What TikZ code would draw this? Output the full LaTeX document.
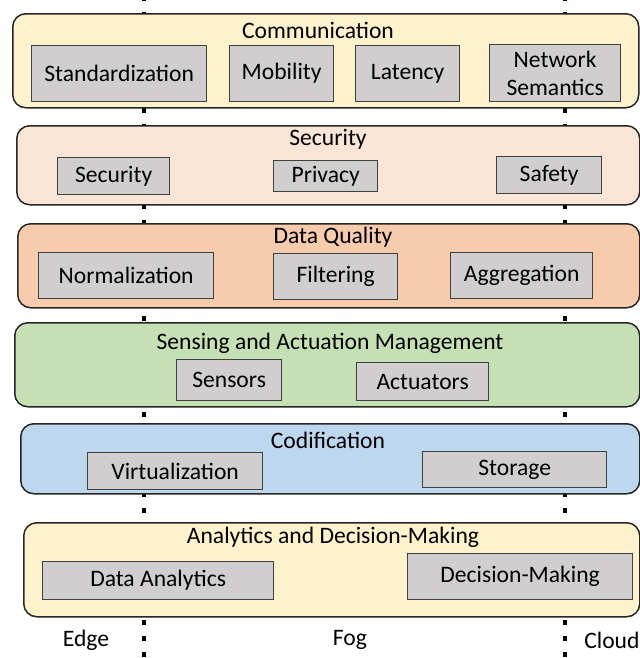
\documentclass[tikz,border=0pt]{standalone}
\usepackage{fontspec}
\setmainfont{Carlito}
\newdimen\px \px=0.75pt
\definecolor{commfill}{HTML}{FFF2CC}
\definecolor{secfill}{HTML}{FBE5D6}
\definecolor{dqfill}{HTML}{F8CBAD}
\definecolor{samfill}{HTML}{C5E0B4}
\definecolor{codefill}{HTML}{BDD7EE}
\definecolor{itemfill}{HTML}{D0CECE}
\tikzset{
	panel/.style={draw=black!85, line width=1.5\px, rounded corners=13\px, anchor=north west, inner sep=0pt},
	item/.style={draw=black!75, fill=itemfill, line width=1.3\px, anchor=north west, inner sep=0pt, align=center},
	tier/.style={draw=black, line width=3.6\px, dash pattern=on 3.6pt off 8.4pt, dash phase=3pt}
}
\begin{document}
\begin{tikzpicture}[x=0.75pt, y=-0.75pt, font=\fontsize{17.7}{21}\selectfont]
				\useasboundingbox (0,0) rectangle (640,658);
				% tier borders, behind the layers
				\coordinate (edgetop) at (144,0);
				\coordinate (edgebot) at (144,658);
				\coordinate (cloudtop) at (565,0);
				\coordinate (cloudbot) at (565,658);
				\draw[tier] (edgetop) -- (edgebot);
				\draw[tier] (cloudtop) -- (cloudbot);
				% layers
				\node[panel, fill=commfill, minimum width=626\px, minimum height=94\px] (comm) at (12,13) {};
				\node (commtitle) at (318,30) {Communication};
				\node[item, minimum width=175\px, minimum height=56\px] (stand) at (31,45) {Standardization};
				\node[item, minimum width=104\px, minimum height=56\px] (mobil) at (229,45) {Mobility};
				\node[item, minimum width=104\px, minimum height=56\px] (laten) at (355,45) {Latency};
				\node[item, minimum width=131\px, minimum height=57\px] (netsem) at (489,44) {Network\\Semantics};

				\node[panel, fill=secfill, minimum width=623\px, minimum height=79\px] (secu) at (16,125) {};
				\node (secutitle) at (328,139) {Security};
				\node[item, minimum width=112\px, minimum height=37\px] (secitem) at (57,157) {Security};
				\node[item, minimum width=104\px, minimum height=31\px] (priv) at (273,160) {Privacy};
				\node[item, minimum width=105\px, minimum height=37\px] (safe) at (496,156) {Safety};

				\node[panel, fill=dqfill, minimum width=622\px, minimum height=84\px] (dq) at (17,223) {};
				\node (dqtitle) at (333,237) {Data Quality};
				\node[item, minimum width=175\px, minimum height=46\px] (norm) at (38,252) {Normalization};
				\node[item, minimum width=124\px, minimum height=46\px] (filt) at (273,253) {Filtering};
				\node[item, minimum width=142\px, minimum height=46\px] (aggr) at (450,252) {Aggregation};

				\node[panel, fill=samfill, minimum width=625\px, minimum height=84\px] (sam) at (14,322) {};
				\node (samtitle) at (330,343) {Sensing and Actuation Management};
				\node[item, minimum width=105\px, minimum height=41\px] (sens) at (176,359) {Sensors};
				\node[item, minimum width=132\px, minimum height=38\px] (actu) at (356,362) {Actuators};

				\node[panel, fill=codefill, minimum width=619\px, minimum height=70\px] (codi) at (20,423) {};
				\node (codititle) at (328,440) {Codification};
				\node[item, minimum width=175\px, minimum height=37\px] (virt) at (87,452) {Virtualization};
				\node[item, minimum width=184\px, minimum height=36\px] (stor) at (422,451) {Storage};

				\node[panel, fill=commfill, minimum width=616\px, minimum height=94\px] (anal) at (23,522) {};
				\node (analtitle) at (333,537) {Analytics and Decision-Making};
				\node[item, minimum width=231\px, minimum height=38\px] (danal) at (42,561) {Data Analytics};
				\node[item, minimum width=225\px, minimum height=46\px] (decis) at (407,553) {Decision-Making};
				% tier names
				\node (edge) at (86,640) {Edge};
				\node (fog) at (350,640) {Fog};
				\node[anchor=west, inner sep=0pt] (cloud) at (584,640) {Cloud};
			\end{tikzpicture}
\end{document}
